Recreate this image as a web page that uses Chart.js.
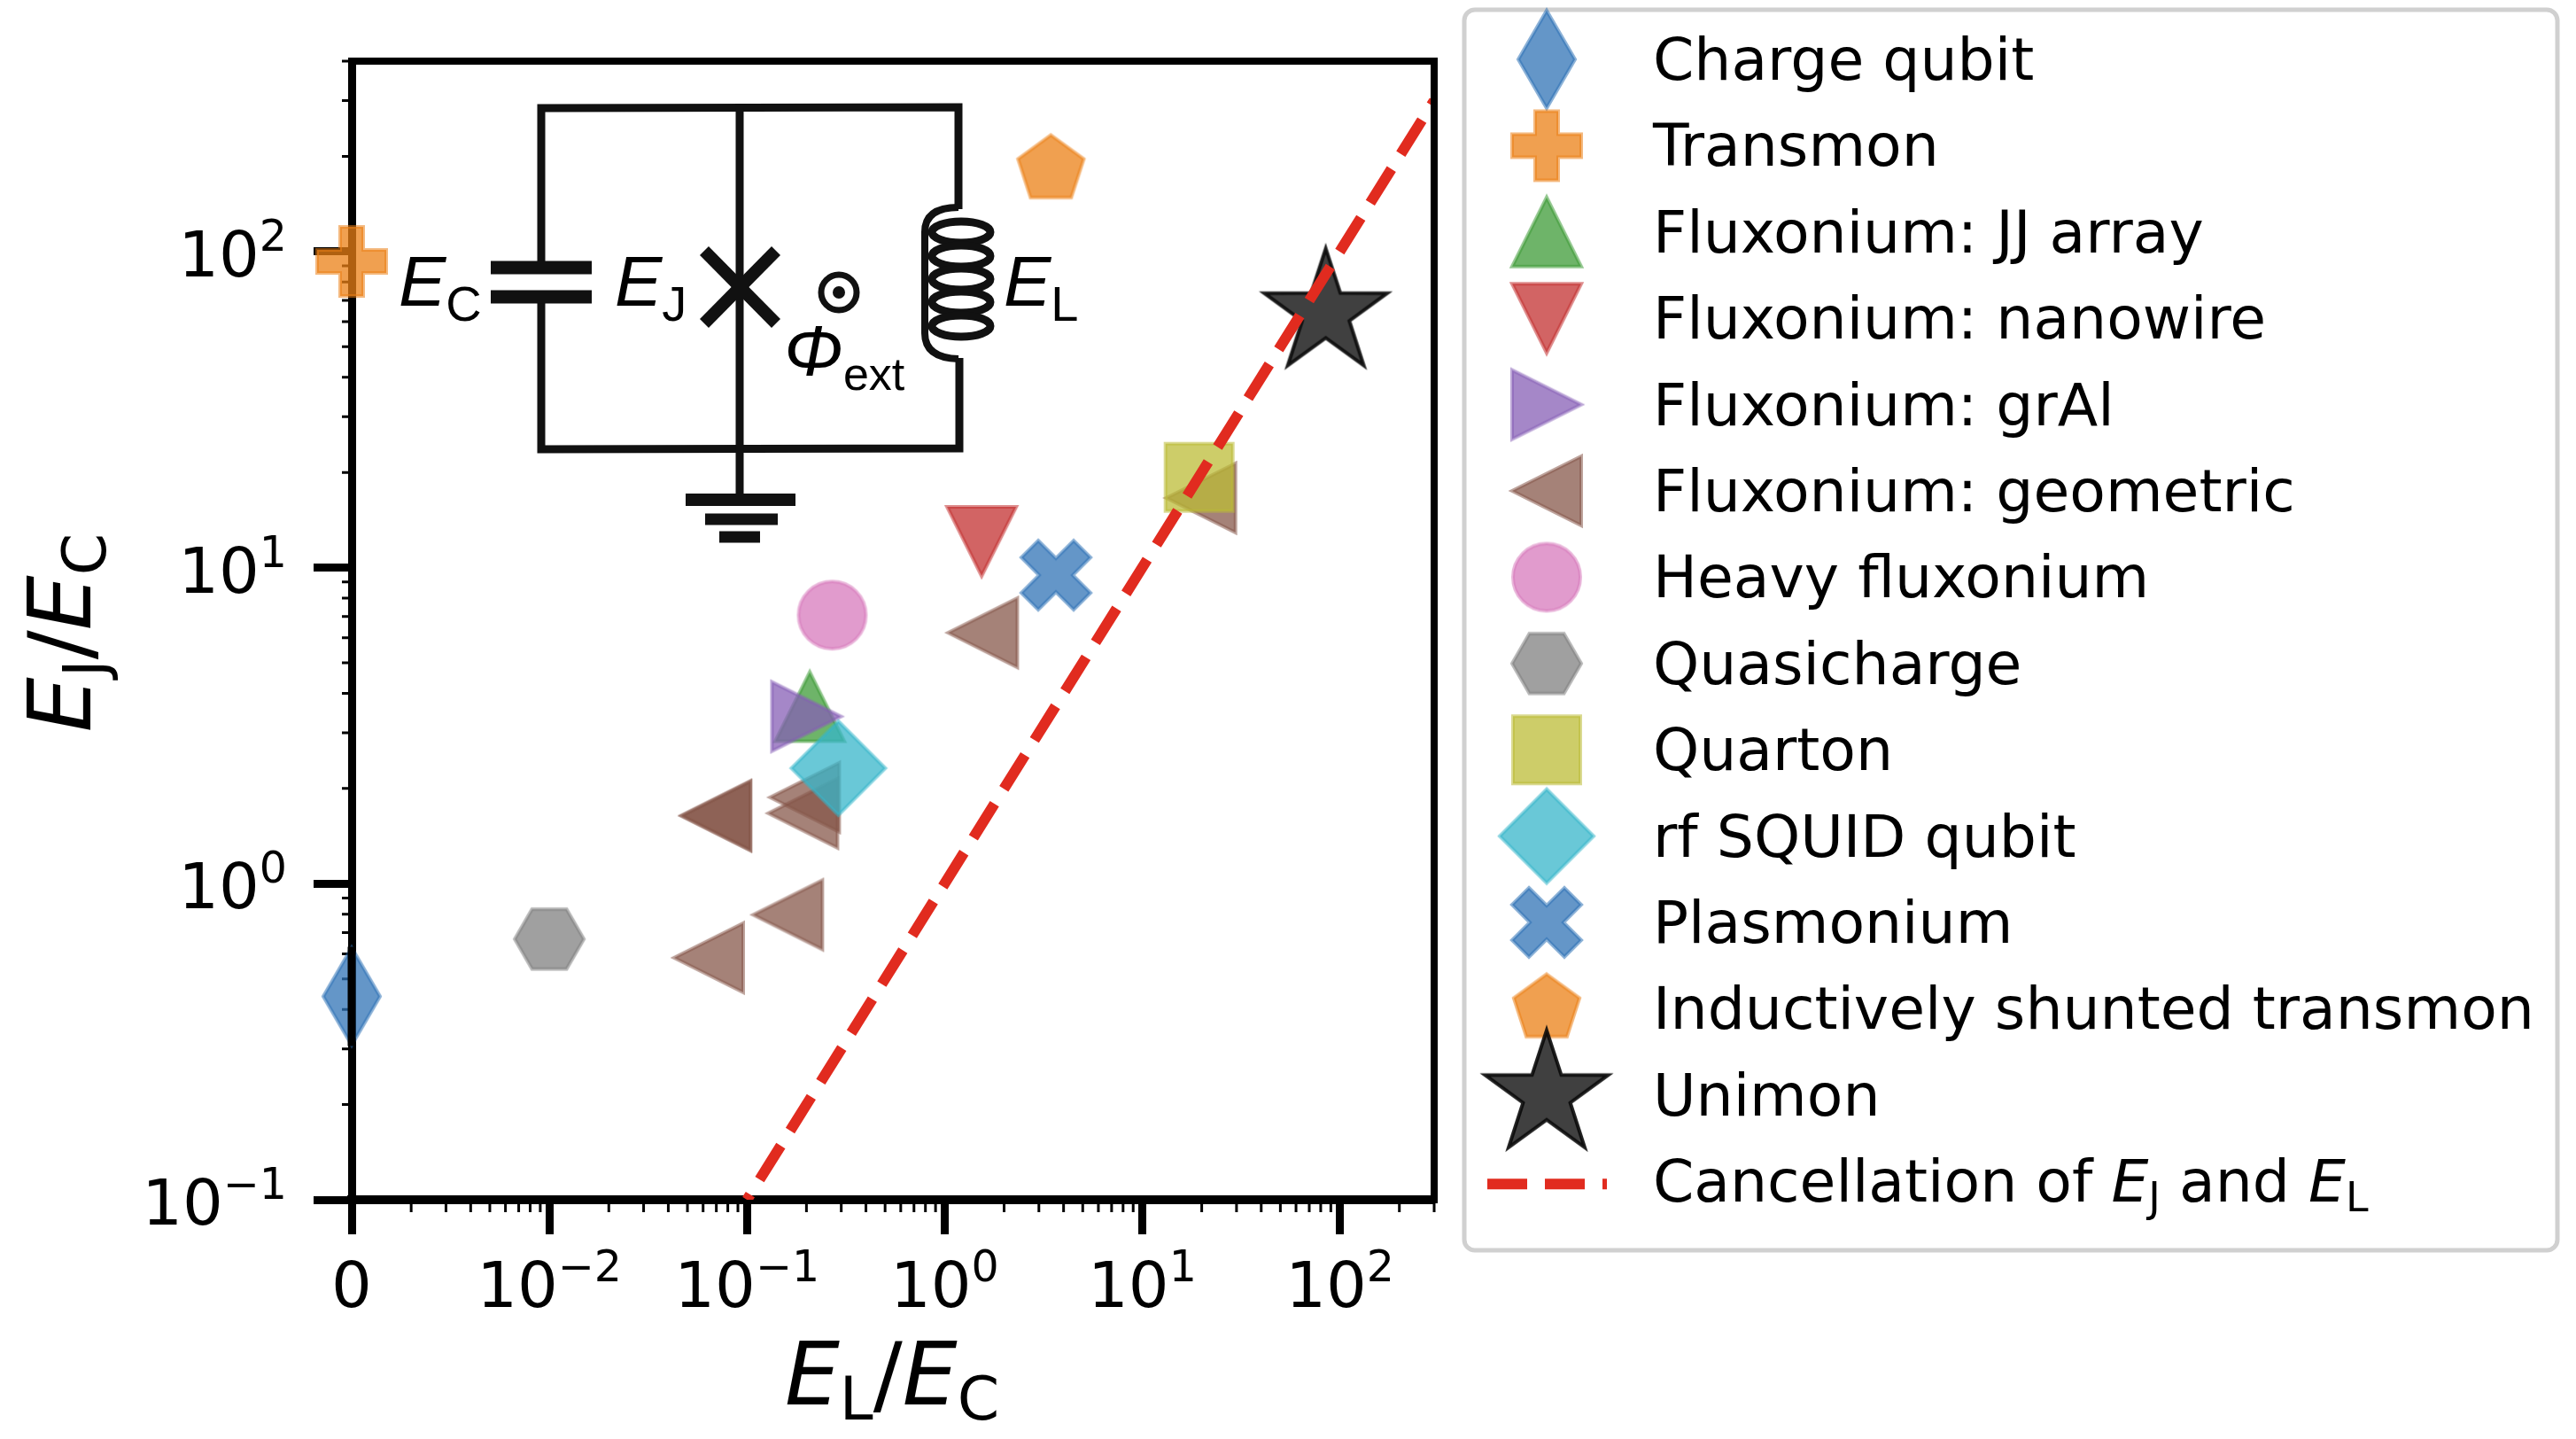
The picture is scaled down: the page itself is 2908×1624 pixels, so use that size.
<!DOCTYPE html>
<html>
<head>
<meta charset="utf-8">
<style>
  html, body { margin: 0; padding: 0; background: #fff; }
  canvas { display: block; }
</style>
<script src="https://cdn.jsdelivr.net/npm/chart.js@4/dist/chart.umd.js"></script>
</head>
<body>
<canvas id="chart-qubits" width="2908" height="1624"></canvas>
<script>
'use strict';


// Data
//
const seriesNames = [
  'Charge qubit', 'Transmon', 'Fluxonium: JJ array', 'Fluxonium: nanowire',
  'Fluxonium: grAl', 'Fluxonium: geometric', 'Heavy fluxonium', 'Quasicharge',
  'Quarton', 'rf SQUID qubit', 'Plasmonium', 'Inductively shunted transmon', 'Unimon'
];
const lineName = 'Cancellation of EJ and EL';

const chargeX = [0];            const chargeY = [0.44];
const transmonX = [0];          const transmonY = [93];
const jjArrayX = [0.208];       const jjArrayY = [3.63];
const nanowireX = [1.54];       const nanowireY = [12.1];
const grAlX = [0.2];            const grAlY = [3.38];
const geometricX = [0.0697, 0.0697, 0.196, 0.192, 0.161, 0.064, 1.56, 19.8];
const geometricY = [1.64, 1.64, 1.875, 1.67, 0.797, 0.583, 6.22, 16.6];
const heavyX = [0.27];          const heavyY = [7.07];
const quasichargeX = [0.01];    const quasichargeY = [0.668];
const quartonX = [19.4];        const quartonY = [19.3];
const rfSquidX = [0.29];        const rfSquidY = [2.32];
const plasmoniumX = [3.66];     const plasmoniumY = [9.46];
const istX = [3.45];            const istY = [181.5];
const unimonX = [84.8];         const unimonY = [63.8];
const lineX = [0.1, 300];       const lineY = [0.1, 300];

const xTickValues = [0, 0.01, 0.1, 1, 10, 100];
const xTickLabels = [['0', ''], ['10', '\u22122'], ['10', '\u22121'], ['10', '0'], ['10', '1'], ['10', '2']];
const yTickValues = [0.1, 1, 10, 100];
const yTickLabels = [['10', '\u22121'], ['10', '0'], ['10', '1'], ['10', '2']];
const minorMultipliers = [2, 3, 4, 5, 6, 7, 8, 9];


// Symlog x axis: 0 to 0.01 takes one linear decade, log above that
//
class SymlogScale extends Chart.Scale {
  static id = 'symlog';
  static defaults = {};

  determineDataLimits() {
    this.min = this.options.min;
    this.max = this.options.max;
  }
  buildTicks() {
    return xTickValues.map(function(v) { return { value: v }; });
  }
  toUnit(v) {
    return v <= 0.01 ? v / 0.01 : 1 + Math.log10(v / 0.01);
  }
  getLabelForValue(v) {
    return String(v);
  }
  getPixelForValue(v) {
    const lo = this.toUnit(this.min);
    return this.getPixelForDecimal((this.toUnit(v) - lo) / (this.toUnit(this.max) - lo));
  }
  getValueForPixel(px) {
    const lo = this.toUnit(this.min);
    const u = lo + this.getDecimalForPixel(px) * (this.toUnit(this.max) - lo);
    return u <= 1 ? u * 0.01 : 0.01 * Math.pow(10, u - 1);
  }
}
Chart.register(SymlogScale);


// Marker shapes, as canvases the points can use for pointStyle
//
function marker(points, fill, edge) {
  const c = document.createElement('canvas');
  c.width = 176;
  c.height = 176;
  const ctx = c.getContext('2d');
  ctx.translate(88, 88);
  ctx.beginPath();
  if (points === 'circle') {
    ctx.arc(0, 0, 38, 0, Math.PI * 2);
  } else {
    points.forEach(function(p, i) {
      if (i === 0) ctx.moveTo(p[0], p[1]); else ctx.lineTo(p[0], p[1]);
    });
    ctx.closePath();
  }
  ctx.fillStyle = fill;
  ctx.fill();
  ctx.strokeStyle = edge;
  ctx.lineWidth = 4;
  ctx.lineJoin = 'miter';
  ctx.stroke();
  return c;
}

function ring(count, radius, start, inner) {
  const pts = [];
  const n = inner ? count * 2 : count;
  for (let i = 0; i < n; i++) {
    const r = inner && i % 2 ? inner : radius;
    const a = start + i * Math.PI * 2 / n;
    pts.push([r * Math.cos(a), r * Math.sin(a)]);
  }
  return pts;
}

const shapes = {
  thinDiamond: [[0, -55], [32, 0], [0, 55], [-32, 0]],
  plus: [[-13, -39], [13, -39], [13, -13], [39, -13], [39, 13], [13, 13], [13, 39], [-13, 39], [-13, 13], [-39, 13], [-39, -13], [-13, -13]],
  up: [[0, -39], [39, 39], [-39, 39]],
  down: [[0, 39], [39, -39], [-39, -39]],
  right: [[39, 0], [-39, 39], [-39, -39]],
  left: [[-39, 0], [39, 39], [39, -39]],
  hexagon: ring(6, 39, 0),
  square: [[-38, -38], [38, -38], [38, 38], [-38, 38]],
  diamond: [[0, -53], [53, 0], [0, 53], [-53, 0]],
  cross: [[-20, -39], [0, -19], [20, -39], [39, -20], [19, 0], [39, 20], [20, 39], [0, 19], [-20, 39], [-39, 20], [-19, 0], [-39, -20]],
  pentagon: ring(5, 39, -Math.PI / 2),
  star: ring(5, 73, -Math.PI / 2, 28)
};

function series(i, xs, ys, shape, rgb) {
  return {
    label: seriesNames[i],
    data: xs.map(function(x, k) { return { x: x, y: ys[k] }; }),
    pointStyle: marker(shape, 'rgba(' + rgb + ',0.75)', 'rgba(' + rgb + ',0.55)'),
    pointRadius: 40,
    showLine: false,
    clip: false,
    order: 100 - i
  };
}

const datasets = [
  series(0, chargeX, chargeY, shapes.thinDiamond, '48,115,182'),
  series(1, transmonX, transmonY, shapes.plus, '235,128,22'),
  series(2, jjArrayX, jjArrayY, shapes.up, '62,155,55'),
  series(3, nanowireX, nanowireY, shapes.down, '195,48,48'),
  series(4, grAlX, grAlY, shapes.right, '135,95,182'),
  series(5, geometricX, geometricY, shapes.left, '135,88,75'),
  series(6, heavyX, heavyY, 'circle', '215,122,188'),
  series(7, quasichargeX, quasichargeY, shapes.hexagon, '128,128,128'),
  series(8, quartonX, quartonY, shapes.square, '188,188,55'),
  series(9, rfSquidX, rfSquidY, shapes.diamond, '55,182,202'),
  series(10, plasmoniumX, plasmoniumY, shapes.cross, '48,115,182'),
  series(11, istX, istY, shapes.pentagon, '235,128,22'),
  {
    label: seriesNames[12],
    data: unimonX.map(function(x, k) { return { x: x, y: unimonY[k] }; }),
    pointStyle: marker(shapes.star, 'rgba(30,30,30,0.85)', 'rgba(10,10,10,0.9)'),
    pointRadius: 40,
    showLine: false,
    clip: false,
    order: 88
  },
  {
    label: lineName,
    data: lineX.map(function(x, k) { return { x: x, y: lineY[k] }; }),
    showLine: true,
    pointRadius: 0,
    borderColor: '#e12b1f',
    borderWidth: 12,
    borderDash: [45, 20],
    borderDashOffset: 38,
    order: 1
  }
];


// Text helpers: runs of text with their own font and baseline shift
//
const SANS = '"DejaVu Sans"';
const ARIAL = '"Liberation Sans"';

function runsWidth(ctx, runs) {
  let w = 0;
  runs.forEach(function(r) {
    ctx.font = r.font;
    w += ctx.measureText(r.text).width + (r.gap || 0);
  });
  return w;
}

function drawRuns(ctx, runs, x, y) {
  ctx.textAlign = 'left';
  ctx.textBaseline = 'alphabetic';
  ctx.fillStyle = '#000';
  runs.forEach(function(r) {
    ctx.font = r.font;
    ctx.fillText(r.text, x, y + (r.dy || 0));
    x += ctx.measureText(r.text).width + (r.gap || 0);
  });
}

function tickRuns(label) {
  const runs = [{ text: label[0], font: '72px ' + SANS }];
  if (label[1]) runs.push({ text: label[1], font: '49px ' + SANS, dy: -29 });
  return runs;
}


// Minor ticks go under the markers
//
const minorTicks = {
  id: 'minorTicks',
  beforeDatasetsDraw: function(chart) {
    const ctx = chart.ctx;
    const xs = chart.scales.x;
    const ys = chart.scales.y;
    const area = chart.chartArea;
    ctx.save();
    ctx.strokeStyle = '#000';
    ctx.lineWidth = 3;
    ctx.beginPath();
    minorMultipliers.forEach(function(k) {
      // the stretch below 0.01 is subdivided like a log decade
      [0.01 * Math.log10(k), k * 0.01, k * 0.1, k, k * 10, k * 100].forEach(function(v) {
        if (v > xs.max) return;
        const px = xs.getPixelForValue(v);
        ctx.moveTo(px, area.bottom);
        ctx.lineTo(px, area.bottom + 14);
      });
      [k * 0.1, k, k * 10, k * 100].forEach(function(v) {
        if (v > ys.max) return;
        const py = ys.getPixelForValue(v);
        ctx.moveTo(area.left, py);
        ctx.lineTo(area.left - 11, py);
      });
    });
    ctx.stroke();
    ctx.restore();
  }
};


// Frame, tick labels, axis titles
//
const frameAndLabels = {
  id: 'frameAndLabels',
  afterDraw: function(chart) {
    const ctx = chart.ctx;
    const xs = chart.scales.x;
    const ys = chart.scales.y;
    const area = chart.chartArea;
    ctx.save();

    // top and right spines
    ctx.strokeStyle = '#000';
    ctx.lineWidth = 8;
    ctx.beginPath();
    ctx.moveTo(area.left - 4, area.top);
    ctx.lineTo(area.right, area.top);
    ctx.lineTo(area.right, area.bottom + 4);
    ctx.stroke();

    // the left spine shows through the charge qubit diamond
    const chargePy = ys.getPixelForValue(chargeY[0]);
    ctx.lineWidth = 9;
    ctx.beginPath();
    ctx.moveTo(area.left, chargePy - 56);
    ctx.lineTo(area.left, chargePy + 56);
    ctx.stroke();

    xTickValues.forEach(function(v, i) {
      const runs = tickRuns(xTickLabels[i]);
      drawRuns(ctx, runs, xs.getPixelForValue(v) - runsWidth(ctx, runs) / 2, 1475);
    });
    yTickValues.forEach(function(v, i) {
      const runs = tickRuns(yTickLabels[i]);
      drawRuns(ctx, runs, 324 - runsWidth(ctx, runs), ys.getPixelForValue(v) + 28);
    });

    const it = 'italic 98px ' + SANS;
    const sub = '68px ' + SANS;
    const xTitle = [
      { text: 'E', font: it }, { text: 'L', font: sub, dy: 17 },
      { text: '/', font: '98px ' + SANS }, { text: 'E', font: it }, { text: 'C', font: sub, dy: 17 }
    ];
    drawRuns(ctx, xTitle, 1007 - runsWidth(ctx, xTitle) / 2, 1585);

    const yTitle = [
      { text: 'E', font: it }, { text: 'J', font: sub, dy: 17 },
      { text: '/', font: '98px ' + SANS }, { text: 'E', font: it }, { text: 'C', font: sub, dy: 17 }
    ];
    ctx.save();
    ctx.translate(102, 714);
    ctx.rotate(-Math.PI / 2);
    drawRuns(ctx, yTitle, -runsWidth(ctx, yTitle) / 2, 0);
    ctx.restore();

    ctx.restore();
  }
};


// Legend box: same markers and names as the datasets
//
const legendBox = {
  id: 'legendBox',
  afterDraw: function(chart) {
    const ctx = chart.ctx;
    ctx.save();
    ctx.fillStyle = '#fff';
    ctx.strokeStyle = '#d0d0d0';
    ctx.lineWidth = 5;
    ctx.beginPath();
    ctx.roundRect(1653, 11, 1234, 1400, 12);
    ctx.fill();
    ctx.stroke();

    chart.data.datasets.forEach(function(ds, i) {
      const cy = 67 + 97.4 * i;
      if (ds.pointStyle) {
        ctx.drawImage(ds.pointStyle, 1746 - 88, cy - 88);
        ctx.font = '66.4px ' + SANS;
        ctx.fillStyle = '#000';
        ctx.textAlign = 'left';
        ctx.textBaseline = 'alphabetic';
        ctx.fillText(ds.label, 1866, cy + 23);
      } else {
        ctx.save();
        ctx.strokeStyle = ds.borderColor;
        ctx.lineWidth = ds.borderWidth;
        ctx.setLineDash(ds.borderDash);
        ctx.beginPath();
        ctx.moveTo(1679, cy + 3);
        ctx.lineTo(1814, cy + 3);
        ctx.stroke();
        ctx.restore();
        const rm = '66.4px ' + SANS;
        const it = 'italic 66.4px ' + SANS;
        const sub = '46px ' + SANS;
        drawRuns(ctx, [
          { text: 'Cancellation of ', font: rm },
          { text: 'E', font: it },
          { text: 'J', font: sub, dy: 11 },
          { text: ' and ', font: rm },
          { text: 'E', font: it },
          { text: 'L', font: sub, dy: 11 }
        ], 1866, cy + 23);
      }
    });
    ctx.restore();
  }
};


// Circuit inset
//
const circuitInset = {
  id: 'circuitInset',
  afterDraw: function(chart) {
    const ctx = chart.ctx;
    ctx.save();
    ctx.strokeStyle = '#111';
    ctx.fillStyle = '#111';
    ctx.lineCap = 'butt';

    function seg(x1, y1, x2, y2, w) {
      ctx.lineWidth = w;
      ctx.beginPath();
      ctx.moveTo(x1, y1);
      ctx.lineTo(x2, y2);
      ctx.stroke();
    }

    // wires
    ctx.lineWidth = 9;
    ctx.lineJoin = 'miter';
    ctx.beginPath();
    ctx.moveTo(611, 302);
    ctx.lineTo(611, 122);
    ctx.lineTo(1082, 121);
    ctx.lineTo(1082, 236);
    ctx.moveTo(1083, 404);
    ctx.lineTo(1083, 506);
    ctx.lineTo(611, 507);
    ctx.lineTo(611, 335);
    ctx.stroke();
    seg(835, 122, 835, 564, 9);

    // capacitor
    seg(554, 302, 668, 302, 15);
    seg(554, 335, 668, 335, 15);

    // junction
    seg(795, 283, 876, 365, 14);
    seg(876, 283, 795, 365, 14);

    // ground
    seg(774, 564, 898, 564, 14);
    seg(796, 586, 878, 586, 13);
    seg(812, 606, 858, 606, 13);

    // flux symbol
    ctx.lineWidth = 7;
    ctx.beginPath();
    ctx.arc(947, 330, 20, 0, Math.PI * 2);
    ctx.stroke();
    ctx.beginPath();
    ctx.arc(947, 330, 7, 0, Math.PI * 2);
    ctx.fill();

    // inductor
    ctx.lineWidth = 9;
    [262, 289, 315, 341, 368].forEach(function(cy) {
      ctx.beginPath();
      ctx.ellipse(1085, cy, 33, 12, 0, 0, Math.PI * 2);
      ctx.stroke();
    });
    ctx.lineWidth = 8;
    ctx.beginPath();
    ctx.moveTo(1082, 234);
    ctx.quadraticCurveTo(1044, 234, 1044, 262);
    ctx.lineTo(1044, 376);
    ctx.quadraticCurveTo(1044, 404, 1082, 405);
    ctx.stroke();

    // labels
    const it = 'italic 80px ' + ARIAL;
    const sub = '56px ' + ARIAL;
    drawRuns(ctx, [{ text: 'E', font: it }, { text: 'C', font: sub, dy: 17 }], 450, 345);
    drawRuns(ctx, [{ text: 'E', font: it }, { text: 'J', font: sub, dy: 17 }], 694, 345);
    drawRuns(ctx, [{ text: 'E', font: it }, { text: 'L', font: sub, dy: 17 }], 1133, 345);
    drawRuns(ctx, [{ text: '\u03A6', font: it }, { text: 'ext', font: '52px ' + ARIAL, dy: 17 }], 885, 423);

    ctx.restore();
  }
};


new Chart(document.getElementById('chart-qubits'), {
  type: 'scatter',
  data: { datasets: datasets },
  plugins: [minorTicks, frameAndLabels, legendBox, circuitInset],
  options: {
    responsive: false,
    animation: false,
    events: [],
    layout: { padding: { left: 0, top: 69, right: 1289, bottom: 0 }, autoPadding: false },
    plugins: {
      legend: { display: false },
      tooltip: { enabled: false }
    },
    scales: {
      x: {
        type: 'symlog',
        position: 'bottom',
        min: 0,
        max: 300,
        afterFit: function(scale) { scale.height = 270; },
        ticks: { display: false, autoSkip: false },
        grid: { drawOnChartArea: false, tickLength: 39, tickWidth: 9, tickColor: '#000' },
        border: { display: true, color: '#000', width: 10 }
      },
      y: {
        type: 'logarithmic',
        position: 'left',
        min: 0.1,
        max: 400,
        afterFit: function(scale) { scale.width = 397; },
        afterBuildTicks: function(scale) {
          scale.ticks = yTickValues.map(function(v) { return { value: v }; });
        },
        ticks: { display: false, autoSkip: false },
        grid: { drawOnChartArea: false, tickLength: 43, tickWidth: 9, tickColor: '#000' },
        border: { display: true, color: '#000', width: 9 }
      }
    }
  }
});
</script>
</body>
</html>
